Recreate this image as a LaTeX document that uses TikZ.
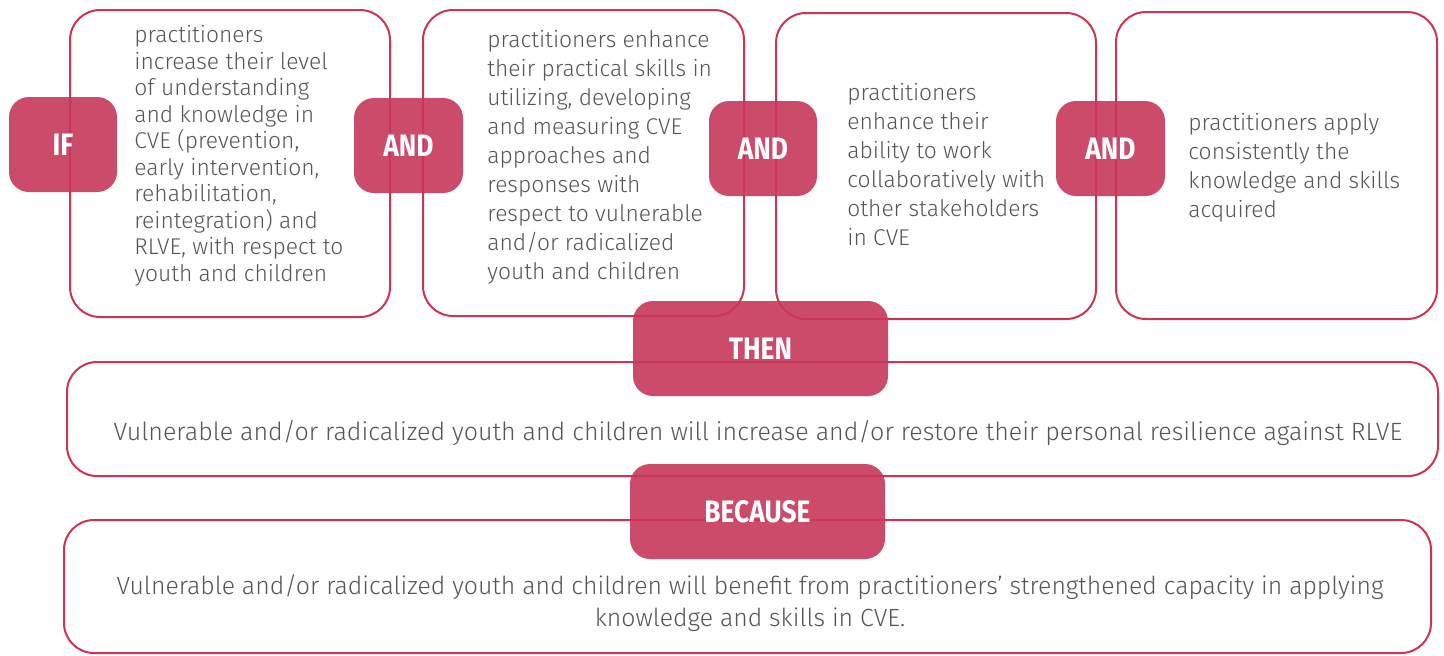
\documentclass[tikz,border=0pt]{standalone}
\usepackage{fontspec}
\setmainfont{Fira Sans Light}
\newfontfamily\tagfont{Fira Sans}[FakeStretch=0.85]
\usetikzlibrary{positioning}
\definecolor{TagRed}{HTML}{C8375A}
\definecolor{CardLine}{HTML}{CC3355}
\definecolor{BodyGray}{HTML}{555555}

\tikzset{
  card/.style={draw=CardLine, line width=1pt, rounded corners=15pt, inner sep=0pt},
  tag/.style={fill=TagRed, fill opacity=0.9, text opacity=1, text=white,
              rounded corners=10pt, minimum height=47.5pt, inner sep=0pt,
              font=\tagfont\bfseries\fontsize{15.5}{18}\selectfont},
  body/.style={text=BodyGray, align=left, inner sep=0pt, anchor=north west,
               font=\fontsize{11.4}{14.5}\selectfont},
}

\begin{document}
\begin{tikzpicture}[x=0.5pt,y=-0.5pt]
\useasboundingbox (0,0) rectangle (1444,655);

% condition cards
\node[card, minimum width=160pt, minimum height=153.5pt] (card1) at (230,163.5) {};
\node[card, minimum width=160.5pt, minimum height=153pt] (card2) at (583.5,163) {};
\node[card, minimum width=160pt, minimum height=153pt] (card3) at (936,166) {};
\node[card, minimum width=160.5pt, minimum height=153.5pt] (card4) at (1276.5,165.5) {};

% result cards
\node[card, minimum width=685.5pt, minimum height=57pt] (thencard) at (752.5,419) {};
\node[card, minimum width=683.5pt, minimum height=66.5pt] (becausecard) at (747.5,586.5) {};

% card texts
\node[body, font=\fontsize{11.4}{13.25}\selectfont] (txt1) at (134,25)
{practitioners\\increase their level\\of understanding\\and knowledge in\\CVE (prevention,\\early intervention,\\rehabilitation,\\reintegration) and\\RLVE, with respect to\\youth and children};
\node[body] (txt2) at (487,30)
{practitioners enhance\\their practical skills in\\utilizing, developing\\and measuring CVE\\approaches and\\responses with\\respect to vulnerable\\and/or radicalized\\youth and children};
\node[body] (txt3) at (847,83)
{practitioners\\enhance their\\ability to work\\collaboratively with\\other stakeholders\\in CVE};
\node[body] (txt4) at (1188,113)
{practitioners apply\\consistently the\\knowledge and skills\\acquired};

\node[body, anchor=center, align=center, font=\fontsize{12.5}{16}\selectfont] (txtthen) at (758,433)
{Vulnerable and/or radicalized youth and children will increase and/or restore their personal resilience against RLVE};
\node[body, anchor=center, align=center, font=\fontsize{12.4}{16}\selectfont] (txtbecause) at (750,603)
{Vulnerable and/or radicalized youth and children will benefit from practitioners’ strengthened capacity in applying\\knowledge and skills in CVE.};

% tags
\node[tag, minimum width=54pt] (tagif) at (63,144.5) {IF};
\node[tag, minimum width=54.5pt] (tagand1) at (408.5,145.5) {AND};
\node[tag, minimum width=54pt] (tagand2) at (763,148.5) {AND};
\node[tag, minimum width=54.5pt] (tagand3) at (1110.5,148.5) {AND};
\node[tag, minimum width=127.5pt] (tagthen) at (760.5,348.5) {THEN};
\node[tag, minimum width=127.5pt] (tagbecause) at (757.5,511.5) {BECAUSE};

\end{tikzpicture}
\end{document}
